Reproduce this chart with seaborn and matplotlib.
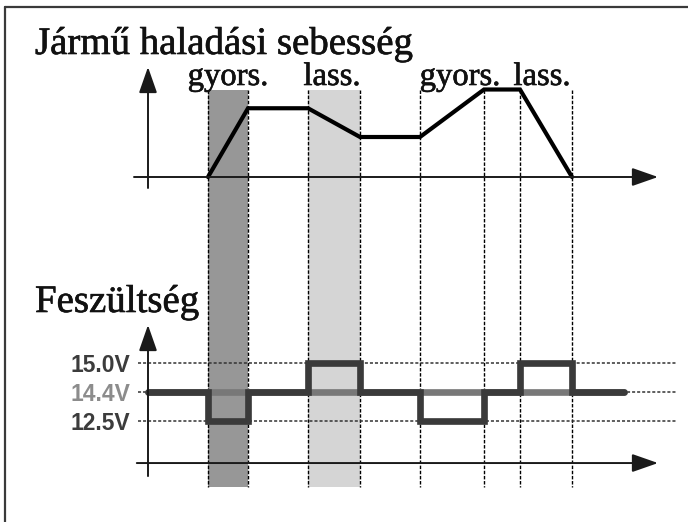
import matplotlib
matplotlib.use("Agg")
import matplotlib.pyplot as plt
import matplotlib.patheffects as pe
from matplotlib.lines import Line2D
import seaborn as sns
import pandas as pd

# DATA
# times (s) where the driving phase changes
event_t = [1.5, 2.5, 4.0, 5.3, 6.8, 8.4, 9.3, 10.6]

# vehicle speed profile (km/h)
speed_t = [1.5, 2.5, 4.0, 5.3, 6.8, 8.4, 9.3, 10.6]
speed_v = [0, 55, 55, 32, 32, 70, 70, 0]

# charging voltage, step changes (V)
volt_t = [0.0, 1.5, 2.5, 4.0, 5.3, 6.8, 8.4, 9.3, 10.6, 11.9]
volt_v = [14.4, 12.5, 14.4, 15.0, 14.4, 12.5, 14.4, 15.0, 14.4, 14.4]
nominal_v = 14.4

volt_levels = [12.5, 14.4, 15.0]
volt_labels = ["12.5V", "14.4V", "15.0V"]
volt_label_colors = ["#3c3c3c", "#8c8c8c", "#3c3c3c"]

phase_names = ["gyors.", "lass.", "gyors.", "lass."]
phase_label_t = [2.0, 4.6, 7.8, 9.85]
band_t = [(1.5, 2.5), (4.0, 5.3)]
band_colors = ["#979797", "#d5d5d5"]

title_top = "Jármű haladási sebesség"
title_bottom = "Feszültség"

# FIGURE
sns.set_theme(style="white")
W, H = 688, 522
fig = plt.figure(figsize=(W / 100, H / 100), dpi=100)
fig.patch.set_facecolor("white")

XLIM = (-3.7, 13.5)
SERIF = ["Liberation Serif", "DejaVu Serif"]
SANS = ["Liberation Sans", "DejaVu Sans"]
heavy = [pe.withStroke(linewidth=0.45, foreground="#111111")]

# background axes for the shaded phases and the dashed guides
bg = fig.add_axes([0, 0, 1, 1])
bg.set_xlim(XLIM)
bg.set_ylim(H, 0)
bg.axis("off")
for (t0, t1), c in zip(band_t, band_colors):
    bg.axvspan(t0, t1, ymin=(H - 487) / H, ymax=(H - 90) / H, color=c, lw=0)
bg.vlines(event_t, 90, 487, colors="black", lw=1.0, linestyles=(0, (2.5, 1.2)))

# top panel: speed
ax_top = fig.add_axes([0, 0.5, 1, 0.5])
ax_top.set_xlim(XLIM)
ax_top.set_ylim(-67.2, 141.6)
ax_top.axis("off")
ax_top.patch.set_alpha(0)

arrow = dict(arrowstyle="-|>,head_length=0.8,head_width=0.28", mutation_scale=20,
             color="#1a1a1a", lw=1.4, shrinkA=0, shrinkB=0)
ax_top.annotate("", xy=(12.75, 0), xytext=(-0.35, 0), arrowprops=arrow)
ax_top.annotate("", xy=(0, 88), xytext=(0, -8.8), arrowprops=arrow)

sns.lineplot(x=speed_t, y=speed_v, ax=ax_top, color="black", lw=3.0,
             estimator=None, solid_joinstyle="miter")

for name, t in zip(phase_names, phase_label_t):
    ax_top.text(t, 73.6, name, ha="center", va="baseline", family=SERIF, size=23.5,
                color="#111111", path_effects=heavy)

# bottom panel: voltage
ax_bot = fig.add_axes([0, 0, 1, 0.5])
ax_bot.set_xlim(XLIM)
ax_bot.set_ylim(-3.483, 5.517)
ax_bot.axis("off")
ax_bot.patch.set_alpha(0)

ax_bot.annotate("", xy=(12.75, -1.45), xytext=(-0.28, -1.45), arrowprops=arrow)
ax_bot.annotate("", xy=(0, 3.31), xytext=(0, -1.9), arrowprops=arrow)

levels = list(range(len(volt_levels)))
ax_bot.hlines(levels, -0.25, 13.2, colors="#333333", lw=1.1, linestyles=(0, (2, 1.3)))

nom_df = pd.DataFrame({"t": [volt_t[0], volt_t[-1]],
                       "level": [volt_levels.index(nominal_v)] * 2})
volt_df = pd.DataFrame({"t": volt_t, "level": [volt_levels.index(v) for v in volt_v]})

sns.lineplot(data=nom_df, x="t", y="level", ax=ax_bot, color="#787878", lw=4.8,
             estimator=None, solid_capstyle="round")
sns.lineplot(data=volt_df, x="t", y="level", ax=ax_bot, color="#3a3a3a", lw=4.8,
             estimator=None, drawstyle="steps-post", solid_capstyle="round",
             solid_joinstyle="miter")

for lvl, lab, c in zip(levels, volt_labels, volt_label_colors):
    ax_bot.text(-0.45, lvl, lab, ha="right", va="center_baseline", family=SANS,
                weight="bold", size=16.5, color=c)

# titles
fig.text(35 / W, 1 - 54 / H, title_top, family=SERIF, size=28, va="baseline",
         color="#111111", path_effects=heavy)
fig.text(35 / W, 1 - 312 / H, title_bottom, family=SERIF, size=28, va="baseline",
         color="#111111", path_effects=heavy)

# picture frame (top and left edges)
fig.add_artist(Line2D([4.5 / W, 4.5 / W], [0, 1 - 7 / H], transform=fig.transFigure,
                      color="#3a3a3a", lw=1.6))
fig.add_artist(Line2D([4.5 / W, 1], [1 - 7 / H, 1 - 7 / H], transform=fig.transFigure,
                      color="#3a3a3a", lw=1.6))

fig.savefig("out.png", dpi=100)
